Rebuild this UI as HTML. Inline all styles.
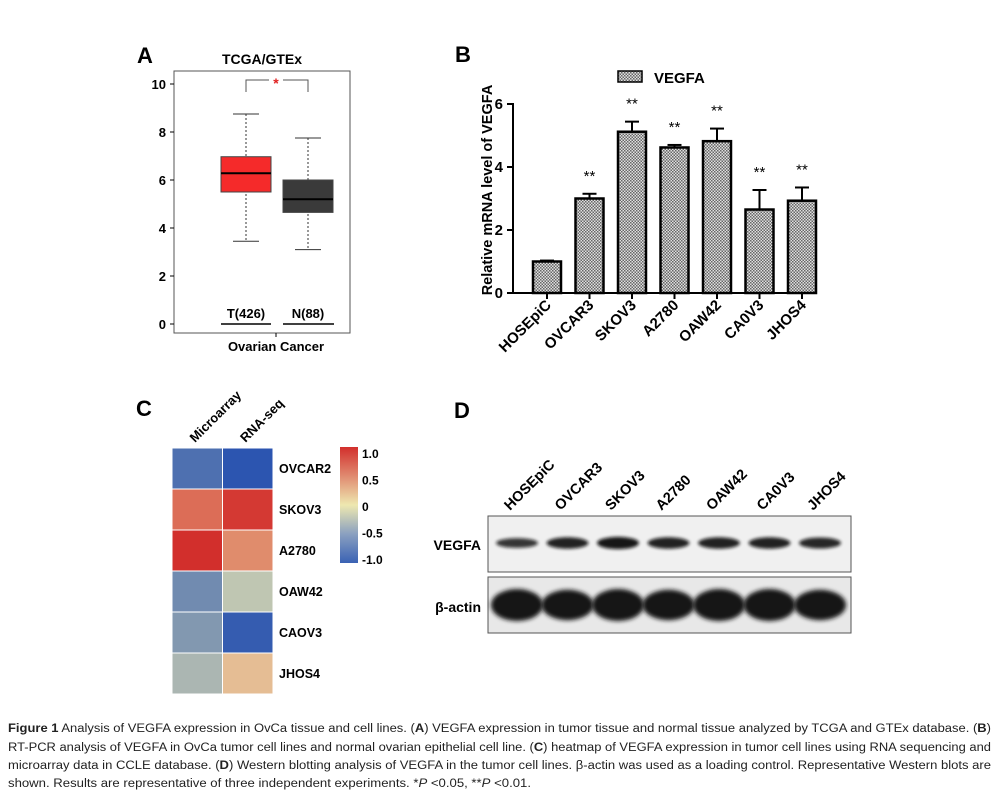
<!DOCTYPE html>
<html><head><meta charset="utf-8"><style>
body{margin:0;background:#fff;}
svg{display:block;font-family:"Liberation Sans",Arial,sans-serif;}
</style></head><body>
<svg id="fig" width="999" height="801" viewBox="0 0 999 801" xmlns="http://www.w3.org/2000/svg">
<defs>
<pattern id="chk" width="3" height="3" patternUnits="userSpaceOnUse"><rect width="3" height="3" fill="#e0e0e0"/><rect width="1.5" height="1.5" fill="#666"/><rect x="1.5" y="1.5" width="1.5" height="1.5" fill="#666"/></pattern>
<filter id="blur" x="-20%" y="-60%" width="140%" height="220%"><feGaussianBlur stdDeviation="1.6"/></filter>
<filter id="blur2" x="-20%" y="-50%" width="140%" height="200%"><feGaussianBlur stdDeviation="2.2"/></filter>
<linearGradient id="cbar" x1="0" y1="0" x2="0" y2="1"><stop offset="0" stop-color="#d22f2c"/><stop offset="0.25" stop-color="#e08a70"/><stop offset="0.5" stop-color="#eee8b0"/><stop offset="0.75" stop-color="#8aa0c0"/><stop offset="1" stop-color="#3a62b4"/></linearGradient>
</defs>

<!-- Panel A -->
<g id="panelA">
<text x="137" y="63" font-size="22" font-weight="bold">A</text>
<text x="262" y="64" font-size="14" font-weight="bold" text-anchor="middle">TCGA/GTEx</text>
<rect x="174" y="71" width="176" height="262" fill="none" stroke="#555" stroke-width="1"/>
<g id="aAxis"></g><g id="aBoxes"></g>
<text x="246" y="318" font-size="13" font-weight="bold" text-anchor="middle">T(426)</text>
<line x1="221" y1="324" x2="271" y2="324" stroke="#000" stroke-width="1.5"/>
<text x="308" y="318" font-size="13" font-weight="bold" text-anchor="middle">N(88)</text>
<line x1="283" y1="324" x2="334" y2="324" stroke="#000" stroke-width="1.5"/>
<line x1="276" y1="333" x2="276" y2="337" stroke="#000"/>
<text x="276" y="351" font-size="13" font-weight="bold" text-anchor="middle">Ovarian Cancer</text>
<path d="M246,92 V80 H308 V92" fill="none" stroke="#555"/>
<rect x="269" y="76" width="14" height="8" fill="#fff"/>
<text x="276" y="88" font-size="14" fill="#e02020" text-anchor="middle" font-weight="bold">*</text>
</g>

<!-- Panel B -->
<g id="panelB">
<text x="455" y="62" font-size="22" font-weight="bold">B</text>
<rect x="618" y="71" width="24" height="11" fill="url(#chk)" stroke="#000" stroke-width="1.5"/>
<text x="654" y="83" font-size="15" font-weight="bold">VEGFA</text>
<text transform="translate(492,190) rotate(-90)" font-size="14.5" font-weight="bold" text-anchor="middle">Relative mRNA level of VEGFA</text>
<g id="bAxis"></g><g id="bBars"></g>
</g>

<!-- Panel C -->
<g id="panelC">
<text x="136" y="416" font-size="22" font-weight="bold">C</text>
<g id="cHeat"></g>
<rect x="340" y="447" width="18" height="116" fill="url(#cbar)"/>
<g id="cScale" font-size="12" font-weight="bold"></g>
</g>

<!-- Panel D -->
<g id="panelD">
<text x="454" y="418" font-size="22" font-weight="bold">D</text>
<rect x="488" y="516" width="363" height="56" fill="#f0f0f0" stroke="#555"/>
<rect x="488" y="577" width="363" height="56" fill="#e8e8e8" stroke="#555"/>
<text x="481" y="550" font-size="14" font-weight="bold" text-anchor="end">VEGFA</text>
<text x="481" y="612" font-size="14" font-weight="bold" text-anchor="end">β-actin</text>
<g id="dLanes"></g>
</g>

<!-- Caption -->
<g font-size="11.5" fill="#222">
<text x="8" y="732" textLength="983" lengthAdjust="spacingAndGlyphs"><tspan font-weight="bold">Figure 1</tspan> Analysis of VEGFA expression in OvCa tissue and cell lines. (<tspan font-weight="bold">A</tspan>) VEGFA expression in tumor tissue and normal tissue analyzed by TCGA and GTEx database. (<tspan font-weight="bold">B</tspan>)</text>
<text x="8" y="751" textLength="983" lengthAdjust="spacingAndGlyphs">RT-PCR analysis of VEGFA in OvCa tumor cell lines and normal ovarian epithelial cell line. (<tspan font-weight="bold">C</tspan>) heatmap of VEGFA expression in tumor cell lines using RNA sequencing and</text>
<text x="8" y="769" textLength="983" lengthAdjust="spacingAndGlyphs">microarray data in CCLE database. (<tspan font-weight="bold">D</tspan>) Western blotting analysis of VEGFA in the tumor cell lines. β-actin was used as a loading control. Representative Western blots are</text>
<text x="8" y="787" textLength="523" lengthAdjust="spacingAndGlyphs">shown. Results are representative of three independent experiments. *<tspan font-style="italic">P</tspan> &lt;0.05, **<tspan font-style="italic">P</tspan> &lt;0.01.</text>
</g>
</svg>
<script>
// ---- Panel A data ----
const aGroups = ['T(426)','N(88)'];
const aMedian = [6.28, 5.2];
const aQ1 = [5.5, 4.65];
const aQ3 = [6.97, 6.0];
const aWhiskLo = [3.45, 3.1];
const aWhiskHi = [8.75, 7.75];
const aColors = ['#f52a2a','#3a3a3a'];
const aTicks = [0,2,4,6,8,10];
// ---- Panel B data ----
const bCategories = ['HOSEpiC','OVCAR3','SKOV3','A2780','OAW42','CA0V3','JHOS4'];
const bValues = [1.0, 3.0, 5.12, 4.62, 4.82, 2.65, 2.93];
const bErrors = [0.03, 0.15, 0.32, 0.08, 0.4, 0.62, 0.42];
const bSig = ['', '**','**','**','**','**','**'];
const bTicks = [0,2,4,6];
// ---- Panel C data ----
const cRows = ['OVCAR2','SKOV3','A2780','OAW42','CAOV3','JHOS4'];
const cCols = ['Microarray','RNA-seq'];
const cMicroarray = [-0.8, 0.7, 1.0, -0.6, -0.5, -0.3];
const cRnaSeq = [-1.0, 0.95, 0.55, -0.2, -0.95, 0.25];
const cScaleTicks = ['1.0','0.5','0','-0.5','-1.0'];
// ---- Panel D data ----
const dLanes = ['HOSEpiC','OVCAR3','SKOV3','A2780','OAW42','CA0V3','JHOS4'];
const dVegfa = [0.6, 0.8, 0.9, 0.8, 0.8, 0.8, 0.75];
const dActin = [1.0, 0.95, 1.0, 0.95, 1.0, 1.0, 0.95];

const NS='http://www.w3.org/2000/svg';
function mk(parent, tag, attrs){const e=document.createElementNS(NS,tag);for(const k in attrs)e.setAttribute(k,attrs[k]);parent.appendChild(e);return e;}

// Panel A
const ay = v => 324 - v*24;
const ax = i => 246 + i*62;
const aAxis=document.getElementById('aAxis');
aTicks.forEach(t=>{
  const l=mk(aAxis,'line',{x1:170,x2:174,y1:ay(t),y2:ay(t),stroke:'#000'});
  
  
  const tx=mk(aAxis,'text',{x:166,y:ay(t)+5,'font-size':13,'font-weight':'bold','text-anchor':'end'});
  tx.textContent=t;
  
  
});
const aBoxes=document.getElementById('aBoxes');
aGroups.forEach((g,i)=>{
  const cx=ax(i);
  const w=mk(aBoxes,'line',{x1:cx,x2:cx,y1:ay(aWhiskHi[i]),y2:ay(aWhiskLo[i]),stroke:'#333','stroke-dasharray':'2,2'});
  
  
  [aWhiskHi[i],aWhiskLo[i]].forEach(v=>{
    const c=mk(aBoxes,'line',{x1:cx-13,x2:cx+13,y1:ay(v),y2:ay(v),stroke:'#333'});
    
    
  });
  const b=mk(aBoxes,'rect',{x:cx-25,y:ay(aQ3[i]),width:50,height:ay(aQ1[i])-ay(aQ3[i]),fill:aColors[i],stroke:'#444'});
  
  
  const m=mk(aBoxes,'line',{x1:cx-25,x2:cx+25,y1:ay(aMedian[i]),y2:ay(aMedian[i]),stroke:'#000','stroke-width':2});
  
  
});

// Panel B
const by = v => 293 - v*31.5;
const bx = i => 547 + i*42.5;
const bAxis=document.getElementById('bAxis');
mk(bAxis,'line',{x1:513,x2:513,y1:103,y2:294,stroke:'#000','stroke-width':2});
mk(bAxis,'line',{x1:512,x2:815,y1:293,y2:293,stroke:'#000','stroke-width':2});
bTicks.forEach(t=>{
  const l=mk(bAxis,'line',{x1:507,x2:513,y1:by(t),y2:by(t),stroke:'#000','stroke-width':2});
  
  
  const tx=mk(bAxis,'text',{x:503,y:by(t)+5,'font-size':15,'font-weight':'bold','text-anchor':'end'});
  tx.textContent=t;
  
  
});
const bBars=document.getElementById('bBars');
bCategories.forEach((c,i)=>{
  const cx=bx(i), v=bValues[i], e=bErrors[i];
  const el=mk(bBars,'line',{x1:cx,x2:cx,y1:by(v+e),y2:by(v),stroke:'#000','stroke-width':2});
  
  
  const ec=mk(bBars,'line',{x1:cx-7,x2:cx+7,y1:by(v+e),y2:by(v+e),stroke:'#000','stroke-width':2});
  
  
  const r=mk(bBars,'rect',{x:cx-14,y:by(v),width:28,height:by(0)-by(v),fill:'url(#chk)',stroke:'#000','stroke-width':2.5});
  
  
  const tk=mk(bBars,'line',{x1:cx,x2:cx,y1:293,y2:299,stroke:'#000','stroke-width':2});
  
  
  const lb=mk(bBars,'text',{transform:`translate(${cx+5},${306}) rotate(-45)`,'font-size':15,'font-weight':'bold','text-anchor':'end'});
  lb.textContent=c;
  
  
  if(bSig[i]){
    const s=mk(bBars,'text',{x:cx,y:by(v+e)-13,'font-size':15,'text-anchor':'middle'});
    s.textContent=bSig[i];
    
    
  }
});

// Panel C
function heatColor(v){
  const stops=[[-1,[44,85,176]],[-0.5,[130,152,176]],[0,[232,228,180]],[0.5,[226,150,115]],[1,[210,47,44]]];
  for(let k=0;k<stops.length-1;k++){
    const [a,ca]=stops[k],[b,cb]=stops[k+1];
    if(v<=b){const t=(v-a)/(b-a);return 'rgb('+ca.map((x,j)=>Math.round(x+(cb[j]-x)*t)).join(',')+')';}
  }
  return 'rgb(210,47,44)';
}
const cHeat=document.getElementById('cHeat');
const cw=50.5, ch=41;
const cSeries=[cMicroarray,cRnaSeq];
cRows.forEach((r,i)=>{
  cSeries.forEach((s,j)=>{
    const cell=mk(cHeat,'rect',{x:172+j*cw,y:448+i*ch,width:cw,height:ch,fill:heatColor(s[i]),stroke:'#fff','stroke-width':1});
    
    
  });
  const t=mk(cHeat,'text',{x:279,y:448+i*ch+25,'font-size':12.5,'font-weight':'bold'});
  t.textContent=r;
  
  
});
cCols.forEach((c,j)=>{
  const t=mk(cHeat,'text',{transform:`translate(${195+j*cw},${443}) rotate(-45)`,'font-size':13,'font-weight':'bold'});
  t.textContent=c;
  
  
});
const cScale=document.getElementById('cScale');
cScaleTicks.forEach((s,i)=>{
  const t=mk(cScale,'text',{x:362,y:458+i*26.5});
  t.textContent=s;
  
  
});

// Panel D
const dx = i => 517 + i*50.5;
const dL=document.getElementById('dLanes');
dLanes.forEach((n,i)=>{
  const cx=dx(i);
  const t=mk(dL,'text',{transform:`translate(${cx-7},${511}) rotate(-45)`,'font-size':14.5,'font-weight':'bold'});
  t.textContent=n;
  
  
  const v=mk(dL,'ellipse',{cx:cx,cy:543,rx:21,ry:2.5+4*dVegfa[i],fill:'#111',opacity:0.55+0.45*dVegfa[i],filter:'url(#blur)'});
  
  
  const a=mk(dL,'ellipse',{cx:cx,cy:605,rx:26,ry:16*dActin[i],fill:'#151515',filter:'url(#blur2)'});
  
  
});
</script>
</body></html>
